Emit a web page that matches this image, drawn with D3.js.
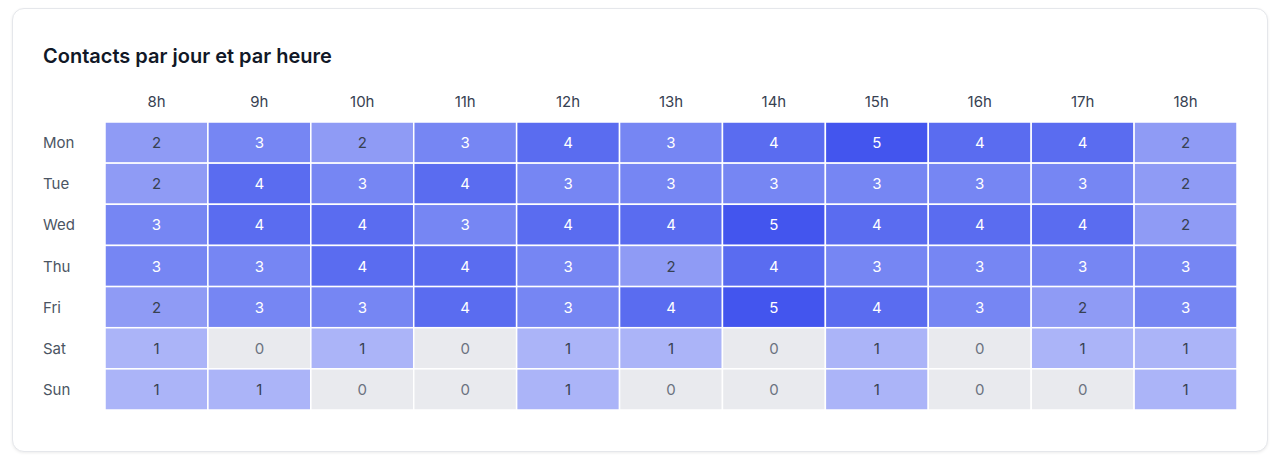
<!DOCTYPE html>
<html><head><meta charset="utf-8">
<script src="https://cdn.jsdelivr.net/npm/d3@7"></script>
<style>
html,body{margin:0;padding:0;background:#fff;}
body{width:1280px;height:463px;overflow:hidden;font-family:Inter,"Noto Sans",sans-serif;}
.card{position:absolute;left:12px;top:8px;width:1256px;height:444px;border:1px solid #e5e7eb;border-radius:12px;box-shadow:0 1px 3px rgba(0,0,0,0.08);background:#fff;box-sizing:border-box;}
svg{position:absolute;left:0;top:0;}
</style></head>
<body>
<div class="card"></div>
<svg id="chart" width="1280" height="463"></svg>
<script>
const title = "Contacts par jour et par heure";
const days = ["Mon","Tue","Wed","Thu","Fri","Sat","Sun"];
const hours = ["8h","9h","10h","11h","12h","13h","14h","15h","16h","17h","18h"];
const mon = [2,3,2,3,4,3,4,5,4,4,2];
const tue = [2,4,3,4,3,3,3,3,3,3,2];
const wed = [3,4,4,3,4,4,5,4,4,4,2];
const thu = [3,3,4,4,3,2,4,3,3,3,3];
const fri = [2,3,3,4,3,4,5,4,3,2,3];
const sat = [1,0,1,0,1,1,0,1,0,1,1];
const sun = [1,1,0,0,1,0,0,1,0,0,1];
const values = [mon,tue,wed,thu,fri,sat,sun];

const svg = d3.select("#chart");
svg.append("text").attr("x",43).attr("y",63).text(title)
  .attr("font-size",20).attr("font-weight",600).attr("fill","#111827");

const x = d3.scaleBand().domain(hours).range([105,1237]).padding(0);
const y = d3.scaleBand().domain(days).range([122,410]).padding(0);
const colors = ["#e9eaee","#abb4f8","#8f9bf5","#7686f3","#5a6cf0","#4355ee"];
const color = d3.scaleOrdinal().domain([0,1,2,3,4,5]).range(colors);

const cells = [];
days.forEach((d,i)=>hours.forEach((h,j)=>cells.push({d,h,v:values[i][j]})));

svg.append("g").selectAll("rect").data(cells).join("rect")
  .attr("x",c=>x(c.h)).attr("y",c=>y(c.d))
  .attr("width",x.bandwidth()).attr("height",y.bandwidth())
  .attr("fill",c=>color(c.v))
  .attr("stroke","#fff").attr("stroke-width",1.5);

svg.append("g").selectAll("text").data(cells).join("text")
  .attr("x",c=>x(c.h)+x.bandwidth()/2).attr("y",c=>y(c.d)+y.bandwidth()/2)
  .attr("text-anchor","middle").attr("dominant-baseline","central")
  .attr("font-size",15)
  .attr("fill",c=>c.v>=3?"#ffffff":(c.v===0?"#6b7280":"#374151"))
  .text(c=>c.v);

svg.append("g").selectAll("text").data(hours).join("text")
  .attr("x",h=>x(h)+x.bandwidth()/2).attr("y",101)
  .attr("text-anchor","middle").attr("dominant-baseline","central")
  .attr("font-size",15).attr("fill","#374151").text(h=>h);

svg.append("g").selectAll("text").data(days).join("text")
  .attr("x",43).attr("y",d=>y(d)+y.bandwidth()/2)
  .attr("dominant-baseline","central")
  .attr("font-size",15).attr("fill","#4b5563").text(d=>d);
</script>
</body></html>
